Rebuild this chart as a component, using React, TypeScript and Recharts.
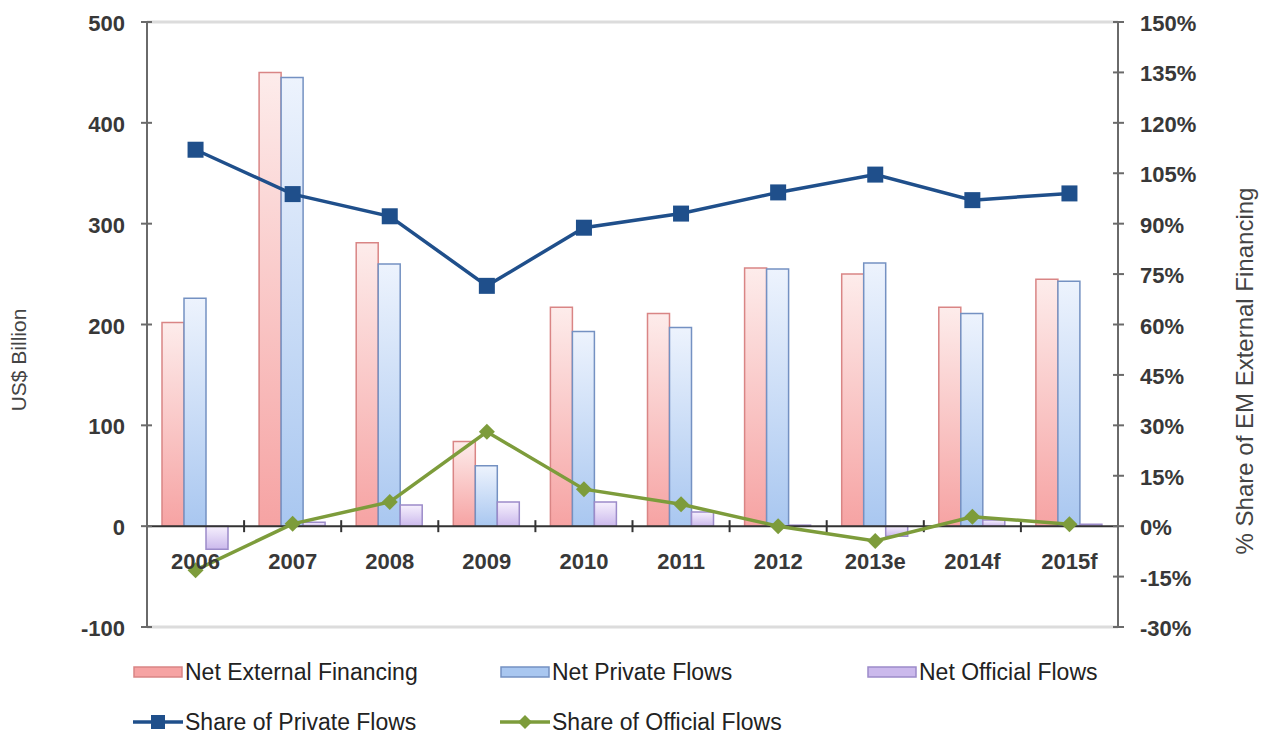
import {
  ComposedChart,
  Bar,
  Line,
  XAxis,
  YAxis,
  ReferenceLine,
} from "recharts";

// --- Data ---
const CATEGORIES = ["2006", "2007", "2008", "2009", "2010", "2011", "2012", "2013e", "2014f", "2015f"];
const NET_EXTERNAL = [202, 450, 281, 84, 217, 211, 256, 250, 217, 245];
const NET_PRIVATE = [226, 445, 260, 60, 193, 197, 255, 261, 211, 243];
const NET_OFFICIAL = [-23, 4, 21, 24, 24, 14, 1, -10, 6, 2];
const SHARE_PRIVATE = [112, 98.8, 92.2, 71.5, 88.8, 93, 99.3, 104.6, 97, 99];
const SHARE_OFFICIAL = [-13.1, 0.7, 7.2, 28.1, 11, 6.5, 0, -4.4, 2.8, 0.6];

const LEFT_TICKS = [-100, 0, 100, 200, 300, 400, 500];
const RIGHT_TICKS = [-30, -15, 0, 15, 30, 45, 60, 75, 90, 105, 120, 135, 150];

const data = CATEGORIES.map((year, i) => ({
  year,
  netExternal: NET_EXTERNAL[i],
  netPrivate: NET_PRIVATE[i],
  netOfficial: NET_OFFICIAL[i],
  sharePrivate: SHARE_PRIVATE[i],
  shareOfficial: SHARE_OFFICIAL[i],
}));

// --- Colors ---
const AXIS_COLOR = "#6a6a6a";
const FRAME_COLOR = "#dcdcdc";
const TEXT_COLOR = "#383838";
const PRIVATE_LINE = "#1f4f8b";
const OFFICIAL_LINE = "#7d9c3b";

const BAR_STYLES = {
  red: { top: "#fdeceb", bottom: "#f6a3a3", stroke: "#d98585" },
  blue: { top: "#edf3fd", bottom: "#a9c7f0", stroke: "#7491c2" },
  purple: { top: "#f6f0fd", bottom: "#cbb9ec", stroke: "#9c8bc9" },
};

const FONT = "'Liberation Sans', Arial, sans-serif";

// --- Axis tick renderers ---
const LeftTick = ({ x, y, payload }: any) => (
  <g>
    <line x1={x - 6} x2={x + 5} y1={y} y2={y} stroke={AXIS_COLOR} strokeWidth={2} />
    <text
      x={x - 22}
      y={y}
      dy={9}
      textAnchor="end"
      fontFamily={FONT}
      fontWeight="bold"
      fontSize={22}
      fill={TEXT_COLOR}
    >
      {payload.value}
    </text>
  </g>
);

const RightTick = ({ x, y, payload }: any) => (
  <g>
    <line x1={x - 5} x2={x + 6} y1={y} y2={y} stroke={AXIS_COLOR} strokeWidth={2} />
    <text
      x={x + 22}
      y={y}
      dy={9}
      textAnchor="start"
      fontFamily={FONT}
      fontWeight="bold"
      fontSize={22}
      fill={TEXT_COLOR}
    >
      {`${payload.value}%`}
    </text>
  </g>
);

// category labels sit just under the zero line, not at the bottom frame
const YearTick = ({ x, y, payload }: any) => (
  <text
    x={x}
    y={y}
    dy={-58}
    textAnchor="middle"
    fontFamily={FONT}
    fontWeight="bold"
    fontSize={22}
    fill={TEXT_COLOR}
  >
    {payload.value}
  </text>
);

// zero line with small ticks at the category boundaries
const ZeroLine = (p: any) => {
  const step = (p.x2 - p.x1) / CATEGORIES.length;
  return (
    <g>
      <line x1={p.x1} y1={p.y1} x2={p.x2} y2={p.y2} stroke="#333" strokeWidth={2} />
      {CATEGORIES.slice(1).map((_c, i) => (
        <line
          key={`zt-${i}`}
          x1={p.x1 + step * (i + 1)}
          x2={p.x1 + step * (i + 1)}
          y1={p.y1 - 6}
          y2={p.y1 + 6}
          stroke="#333"
          strokeWidth={2}
        />
      ))}
    </g>
  );
};

const SquareDot = (props: any) => {
  const { cx, cy, index } = props;
  return <rect key={`sq-${index}`} x={cx - 8} y={cy - 8} width={16} height={16} fill={PRIVATE_LINE} />;
};

const DiamondDot = (props: any) => {
  const { cx, cy, index } = props;
  return (
    <polygon
      key={`dm-${index}`}
      points={`${cx},${cy - 8} ${cx + 8},${cy} ${cx},${cy + 8} ${cx - 8},${cy}`}
      fill={OFFICIAL_LINE}
    />
  );
};

// --- Legend ---
const BarSwatch = ({ kind }: { kind: keyof typeof BAR_STYLES }) => (
  <svg width={50} height={12} style={{ flex: "none" }}>
    <rect x={1} y={1} width={48} height={10} fill={BAR_STYLES[kind].bottom} stroke={BAR_STYLES[kind].stroke} strokeWidth={1.5} />
  </svg>
);

const LineSwatch = ({ color, marker }: { color: string; marker: "square" | "diamond" }) => (
  <svg width={50} height={18} style={{ flex: "none" }}>
    <line x1={0} x2={50} y1={9} y2={9} stroke={color} strokeWidth={3.5} />
    {marker === "square" ? (
      <rect x={18} y={2} width={14} height={14} fill={color} />
    ) : (
      <polygon points="25,2 32,9 25,16 18,9" fill={color} />
    )}
  </svg>
);

const legendText = {
  fontFamily: FONT,
  fontSize: 23,
  color: "#222",
  marginLeft: 2,
  whiteSpace: "nowrap" as const,
};

function LegendItem({ swatch, label }: { swatch: React.ReactNode; label: string }) {
  return (
    <div style={{ display: "flex", alignItems: "center", height: 26 }}>
      {swatch}
      <span style={legendText}>{label}</span>
    </div>
  );
}

export default function App() {
  return (
    <div style={{ position: "absolute", left: 0, top: 0, width: 1263, height: 739, background: "#fff" }}>
      <ComposedChart
        width={1263}
        height={739}
        data={data}
        margin={{ top: 22, right: 85, bottom: 82, left: 87 }}
        barCategoryGap={15}
        barGap={0}
      >
        <defs>
          {Object.entries(BAR_STYLES).map(([k, s]) => (
            <linearGradient key={k} id={`grad-${k}`} x1="0" y1="0" x2="0" y2="1">
              <stop offset="0%" stopColor={s.top} />
              <stop offset="100%" stopColor={s.bottom} />
            </linearGradient>
          ))}
        </defs>
        <XAxis
          dataKey="year"
          height={30}
          axisLine={{ stroke: FRAME_COLOR, strokeWidth: 3 }}
          tickLine={false}
          tickSize={0}
          tickMargin={0}
          tick={YearTick}
          interval={0}
        />
        <YAxis
          yAxisId="left"
          width={60}
          domain={[-100, 500]}
          ticks={LEFT_TICKS}
          axisLine={{ stroke: AXIS_COLOR, strokeWidth: 2 }}
          tickLine={false}
          tickSize={0}
          tickMargin={0}
          tick={LeftTick}
          interval={0}
        />
        <YAxis
          yAxisId="right"
          orientation="right"
          width={60}
          domain={[-30, 150]}
          ticks={RIGHT_TICKS}
          axisLine={{ stroke: AXIS_COLOR, strokeWidth: 2 }}
          tickLine={false}
          tickSize={0}
          tickMargin={0}
          tick={RightTick}
          interval={0}
        />
        <ReferenceLine yAxisId="left" y={500} stroke={FRAME_COLOR} strokeWidth={3} />
        <Bar
          yAxisId="left"
          dataKey="netExternal"
          name="Net External Financing"
          fill="url(#grad-red)"
          stroke={BAR_STYLES.red.stroke}
          strokeWidth={1.5}
          isAnimationActive={false}
        />
        <Bar
          yAxisId="left"
          dataKey="netPrivate"
          name="Net Private Flows"
          fill="url(#grad-blue)"
          stroke={BAR_STYLES.blue.stroke}
          strokeWidth={1.5}
          isAnimationActive={false}
        />
        <Bar
          yAxisId="left"
          dataKey="netOfficial"
          name="Net Official Flows"
          fill="url(#grad-purple)"
          stroke={BAR_STYLES.purple.stroke}
          strokeWidth={1.5}
          isAnimationActive={false}
        />
        <ReferenceLine yAxisId="left" y={0} shape={ZeroLine} />
        <Line
          yAxisId="right"
          dataKey="shareOfficial"
          name="Share of Official Flows"
          stroke={OFFICIAL_LINE}
          strokeWidth={3.5}
          dot={DiamondDot}
          activeDot={false}
          type="linear"
          isAnimationActive={false}
        />
        <Line
          yAxisId="right"
          dataKey="sharePrivate"
          name="Share of Private Flows"
          stroke={PRIVATE_LINE}
          strokeWidth={3.5}
          dot={SquareDot}
          activeDot={false}
          type="linear"
          isAnimationActive={false}
        />
        <text
          x={26}
          y={360}
          transform="rotate(-90 26 360)"
          textAnchor="middle"
          fontFamily={FONT}
          fontSize={21}
          fill="#444"
        >
          US$ Billion
        </text>
        <text
          x={1253}
          y={371}
          transform="rotate(-90 1253 371)"
          textAnchor="middle"
          fontFamily={FONT}
          fontSize={24}
          fill="#444"
        >
          % Share of EM External Financing
        </text>
      </ComposedChart>

      <div
        style={{
          position: "absolute",
          left: 133,
          top: 659,
          display: "grid",
          gridTemplateColumns: "367px 367px auto",
          rowGap: 24,
        }}
      >
        <LegendItem swatch={<BarSwatch kind="red" />} label="Net External Financing" />
        <LegendItem swatch={<BarSwatch kind="blue" />} label="Net Private Flows" />
        <LegendItem swatch={<BarSwatch kind="purple" />} label="Net Official Flows" />
        <LegendItem swatch={<LineSwatch color={PRIVATE_LINE} marker="square" />} label="Share of Private Flows" />
        <LegendItem swatch={<LineSwatch color={OFFICIAL_LINE} marker="diamond" />} label="Share of Official Flows" />
      </div>
    </div>
  );
}
